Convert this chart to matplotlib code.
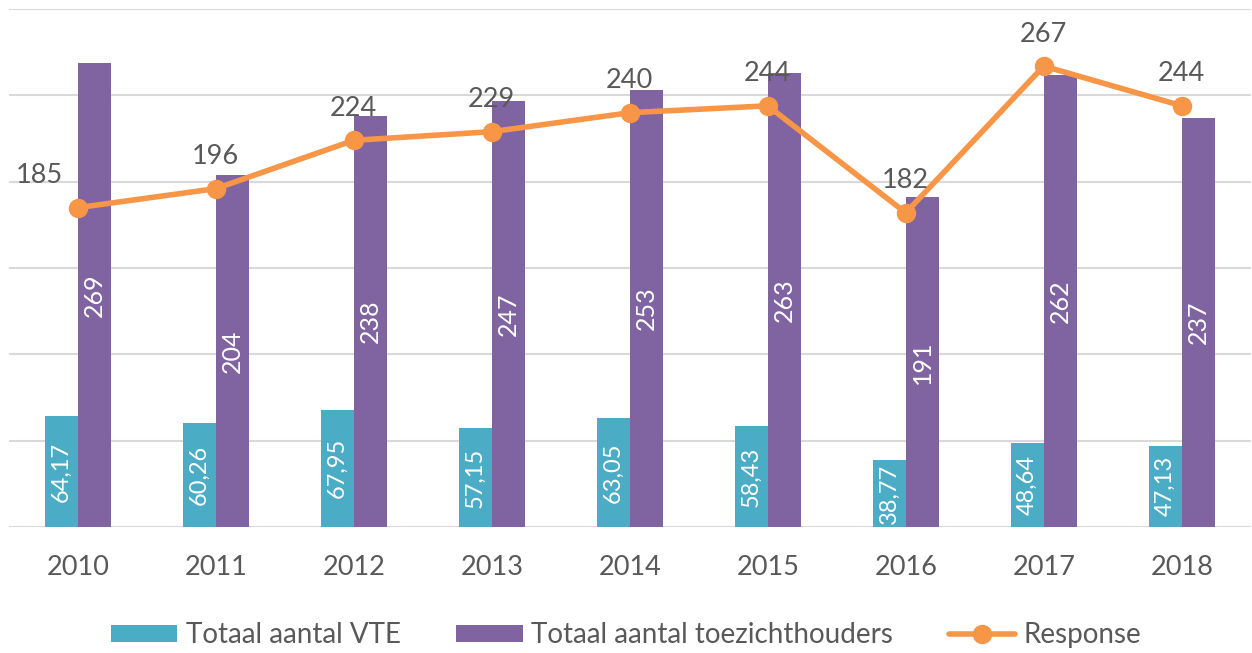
import matplotlib
matplotlib.use("Agg")
import numpy as np
import matplotlib.pyplot as plt

years = ["2010", "2011", "2012", "2013", "2014", "2015", "2016", "2017", "2018"]
vte = [64.17, 60.26, 67.95, 57.15, 63.05, 58.43, 38.77, 48.64, 47.13]
toezicht = [269, 204, 238, 247, 253, 263, 191, 262, 237]
response = [185, 196, 224, 229, 240, 244, 182, 267, 244]

teal = "#4BACC6"
purple = "#8064A2"
orange = "#F79646"
txt = "#595959"

plt.rcParams["font.family"] = ["Lato", "DejaVu Sans"]

fig = plt.figure(figsize=(12.52, 6.53), dpi=100)
ax = fig.add_axes([0.007, 0.193, 0.992, 0.793])

x = np.arange(len(years))
w = 0.24
b1 = ax.bar(x - w / 2, vte, w, color=teal, label="Totaal aantal VTE", zorder=2)
b2 = ax.bar(x + w / 2, toezicht, w, color=purple, label="Totaal aantal toezichthouders", zorder=2)
ln, = ax.plot(x, response, color=orange, lw=4, marker="o", ms=13,
              solid_capstyle="round", label="Response", zorder=3)

for xi, v in zip(x, vte):
    ax.text(xi - w / 2, v / 2, f"{v:.2f}".replace(".", ","), rotation=90,
            ha="center", va="center", color="white", fontsize=17, zorder=4)
for xi, v in zip(x, toezicht):
    ax.text(xi + w / 2, v / 2, str(v), rotation=90,
            ha="center", va="center", color="white", fontsize=18, zorder=4)
for i, (xi, v) in enumerate(zip(x, response)):
    dx = -28 if i == 0 else 0
    ax.annotate(str(v), (xi, v), xytext=(dx, 14), textcoords="offset points",
                ha="center", va="bottom", color=txt, fontsize=19.5)

ax.set_xlim(-0.5, len(years) - 0.5)
ax.set_ylim(0, 300)
ax.set_yticks(np.arange(0, 301, 50))
ax.set_yticklabels([])
ax.set_xticks(x)
ax.set_xticklabels(years, fontsize=19.5, color=txt)
ax.tick_params(axis="both", length=0)
ax.tick_params(axis="x", pad=20)
ax.grid(axis="y", color="#D9D9D9", lw=1.5, zorder=0)
for s in ax.spines.values():
    s.set_visible(False)

fig.legend(handles=[b1, b2, ln], loc="center", bbox_to_anchor=(0.5, 0.027),
           ncol=3, frameon=False, fontsize=20, labelcolor=txt,
           handlelength=2.4, handleheight=0.6, columnspacing=2.0, handletextpad=0.3)

fig.savefig("out.png", dpi=100)
